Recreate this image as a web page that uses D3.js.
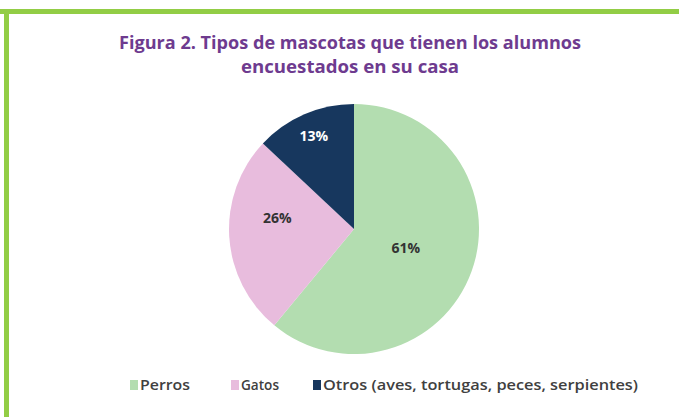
<!DOCTYPE html>
<html lang="es">
<head>
  <meta charset="UTF-8">
  <title>Figura 2. Tipos de mascotas</title>
  <style>
    body { margin: 0; background: #fff; }
    svg { display: block; }
  </style>
</head>
<body>
  <svg class="pie-chart"></svg>
  <script src="https://cdn.jsdelivr.net/npm/d3@7"></script>
  <script>
    var w = 679;
    var h = 417;

    var categories = ["Perros", "Gatos", "Otros (aves, tortugas, peces, serpientes)"];
    var percents = [61, 26, 13];
    var colors = ["#b3ddb0", "#e8bcdd", "#17375e"];
    var titleLines = ["Figura 2. Tipos de mascotas que tienen los alumnos", "encuestados en su casa"];

    var cx = 354, cy = 229, radius = 125;
    var font = "'Open Sans', sans-serif";

    var svg = d3.select(".pie-chart")
      .attr("width", w)
      .attr("height", h);

    // green frame (top + left)
    svg.append("rect").attr("x", 0).attr("y", 9).attr("width", w).attr("height", 5).attr("fill", "#92cd45");
    svg.append("rect").attr("x", 4).attr("y", 9).attr("width", 5).attr("height", h - 9).attr("fill", "#92cd45");

    // title
    var titleWidths = [462, 218];
    svg.selectAll(".title")
      .data(titleLines)
      .enter()
      .append("text")
      .attr("class", "title")
      .attr("x", 350)
      .attr("y", (d, i) => 49 + i * 24)
      .attr("text-anchor", "middle")
      .attr("textLength", (d, i) => titleWidths[i])
      .attr("lengthAdjust", "spacingAndGlyphs")
      .attr("font-family", font)
      .attr("font-weight", "bold")
      .attr("font-size", "18px")
      .attr("fill", "#6e3b8f")
      .text(d => d);

    var pie = d3.pie().sort(null).value(d => d);
    var arc = d3.arc().innerRadius(0).outerRadius(radius);
    var arcs = pie(percents);

    var g = svg.append("g").attr("transform", "translate(" + cx + "," + cy + ")");

    g.selectAll("path")
      .data(arcs)
      .enter()
      .append("path")
      .attr("d", arc)
      .attr("fill", (d, i) => colors[i]);

    // Excel-style best fit labels
    var labelR = [0.44, 0.62, 0.81];
    var labelNudge = [0, 0.2, 0];
    g.selectAll(".lbl")
      .data(arcs)
      .enter()
      .append("text")
      .attr("class", "lbl")
      .attr("transform", (d, i) => {
        var a = (d.startAngle + d.endAngle) / 2 + labelNudge[i];
        var r = radius * labelR[i];
        return "translate(" + (Math.sin(a) * r) + "," + (-Math.cos(a) * r) + ")";
      })
      .attr("text-anchor", "middle")
      .attr("dy", "0.35em")
      .attr("font-family", font)
      .attr("font-weight", "bold")
      .attr("font-size", "14px")
      .attr("fill", (d, i) => i === 2 ? "#ffffff" : "#333333")
      .text(d => d.data + "%");

    // legend
    var legendX = [130, 231, 313];
    var legendW = [50, 38, 315];
    var leg = svg.selectAll(".leg")
      .data(categories)
      .enter()
      .append("g")
      .attr("class", "leg")
      .attr("transform", (d, i) => "translate(" + legendX[i] + ",385)");

    leg.append("rect")
      .attr("x", 0)
      .attr("y", -5)
      .attr("width", 8)
      .attr("height", 10)
      .attr("fill", (d, i) => colors[i]);

    leg.append("text")
      .attr("x", 10)
      .attr("dy", "0.35em")
      .attr("textLength", (d, i) => legendW[i])
      .attr("lengthAdjust", "spacingAndGlyphs")
      .attr("font-family", font)
      .attr("font-weight", 600)
      .attr("font-size", "15px")
      .attr("fill", "#404040")
      .text(d => d);
  </script>
</body>
</html>
